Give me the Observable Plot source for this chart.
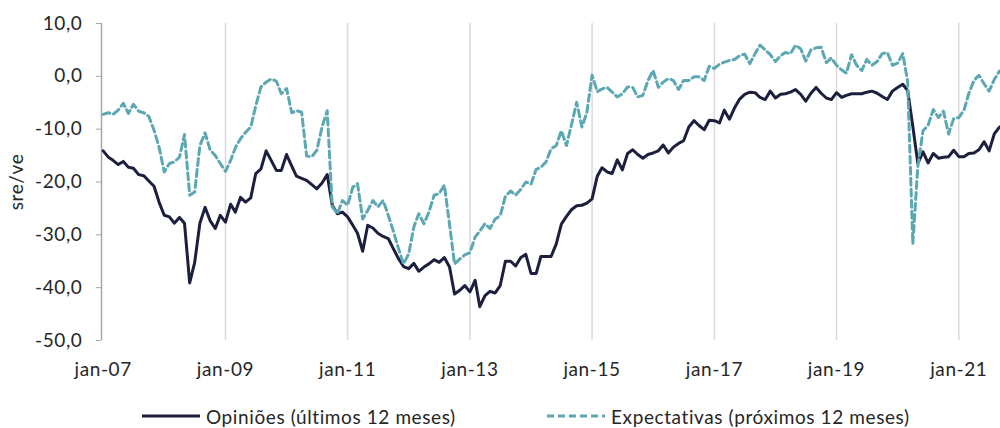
<!DOCTYPE html>
<html>
<head>
<meta charset="utf-8">
<script src="https://cdn.jsdelivr.net/npm/d3@7"></script>
<script src="https://cdn.jsdelivr.net/npm/@observablehq/plot@0.6"></script>
<style>
  body { margin: 0; background: #fff; font-family: Lato, sans-serif; }
  #legend { display: flex; padding-left: 142px; height: 24px; align-items: center;
            font-size: 19px; letter-spacing: 0.6px; color: #262626; }
  #legend .item { display: flex; align-items: center; gap: 6px; }
  #legend .item:first-child { width: 405px; }
</style>
</head>
<body>
<div id="chart"></div>
<div id="legend"></div>
<script>
// meses: jan-07 a set-21
const meses = d3.utcMonth.range(new Date(Date.UTC(2007, 0, 1)), new Date(Date.UTC(2021, 9, 1)))

const opinioes = [
  -14.1, -15.3, -15.9, -16.7, -16.1, -17.2, -17.4, -18.6, -18.8, -19.8, -20.8, -23.8,
  -26.3, -26.6, -27.8, -26.7, -27.8, -39.1, -35.2, -27.8, -24.8, -27.3, -28.8, -26.3,
  -27.6, -24.2, -25.7, -22.9, -23.8, -23.0, -18.4, -17.5, -14.1, -15.9, -17.8, -17.8,
  -14.8, -17.0, -18.9, -19.3, -19.7, -20.5, -21.3, -20.2, -18.6, -24.4, -26.0, -25.7,
  -26.6, -28.2, -29.7, -33.1, -28.2, -28.7, -29.7, -30.3, -30.7, -32.6, -34.5, -36.0,
  -36.4, -35.4, -36.9, -36.1, -35.5, -34.7, -35.2, -34.3, -36.1, -41.2, -40.5, -39.6,
  -40.8, -38.6, -43.6, -41.5, -40.7, -41.0, -39.6, -35.0, -35.0, -35.9, -34.3, -33.7,
  -37.3, -37.3, -34.1, -34.1, -34.1, -31.7, -28.0, -26.5, -25.2, -24.5, -24.4, -24.0,
  -23.2, -18.9, -17.3, -18.1, -18.4, -15.8, -17.7, -14.6, -13.9, -14.8, -15.5, -14.8,
  -14.5, -14.1, -13.0, -14.5, -13.4, -12.7, -12.2, -9.6, -8.4, -9.3, -10.1, -8.3,
  -8.4, -8.8, -6.4, -8.1, -6.0, -4.3, -3.4, -3.0, -3.1, -4.0, -4.4, -2.8,
  -4.1, -3.4, -3.3, -3.0, -2.5, -3.4, -4.7, -3.2, -2.1, -3.2, -4.1, -4.4,
  -3.1, -4.0, -3.6, -3.3, -3.3, -3.3, -3.0, -2.8, -3.2, -3.8, -4.4, -2.8,
  -2.1, -1.5, -2.7, -9.5, -16.5, -14.3, -16.4, -14.6, -15.5, -15.3, -15.2, -14.0,
  -15.2, -15.2, -14.6, -14.5, -13.9, -12.4, -14.1, -10.9, -9.6
]

const expectativas = [
  -7.2, -6.9, -7.2, -6.4, -5.1, -7.0, -5.3, -6.6, -6.9, -7.6, -10.2, -13.4,
  -18.1, -16.5, -16.2, -15.3, -11.0, -22.5, -21.9, -13.1, -10.7, -13.9, -15.0, -16.5,
  -18.0, -15.9, -13.5, -11.8, -10.6, -9.6, -5.6, -2.0, -1.1, -0.5, -0.9, -3.3,
  -2.3, -6.9, -6.5, -6.8, -15.1, -15.2, -14.0, -9.6, -6.5, -24.7, -26.0, -23.5,
  -24.4, -21.0, -20.3, -27.0, -25.4, -23.5, -24.7, -23.5, -26.3, -29.3, -32.6, -35.5,
  -33.6, -28.5, -26.0, -27.9, -25.7, -22.5, -22.2, -20.6, -28.0, -35.5, -34.6, -33.8,
  -33.4, -30.4, -29.3, -27.9, -28.8, -27.0, -26.4, -22.7, -21.7, -22.5, -21.4, -20.0,
  -20.4, -17.6, -17.2, -16.2, -13.7, -13.1, -10.3, -13.1, -9.0, -4.9, -9.6, -6.8,
  0.2, -2.9, -2.4, -2.1, -3.0, -3.9, -3.3, -2.0, -2.1, -3.9, -3.6, -0.8,
  1.1, -2.1, -1.1, -0.4, -0.8, -2.5, -0.8, -0.8, -0.1, -0.1, -0.8, 1.9,
  1.5, 2.3, 2.7, 3.0, 3.2, 3.9, 4.2, 2.4, 4.3, 5.9, 5.0, 4.1,
  2.8, 3.9, 4.5, 4.3, 5.9, 5.2, 2.9, 5.0, 5.4, 5.5, 2.6, 3.5,
  2.1, 1.2, 0.6, 4.1, 2.1, 1.1, 3.2, 2.1, 2.8, 4.3, 4.5, 2.1,
  2.5, 4.3, -1.0, -31.7, -17.0, -10.3, -9.3, -6.3, -7.8, -6.6, -10.9, -8.0,
  -7.8, -6.4, -3.3, -0.8, 0.2, -1.4, -2.8, -0.6, 1.0
]

const anosTick = [2007, 2009, 2011, 2013, 2015, 2017, 2019, 2021]
const ticksY = [10, 0, -10, -20, -30, -40, -50]

const series = [
  {nome: 'Opiniões (últimos 12 meses)', cor: '#1c1f3e', traco: null},
  {nome: 'Expectativas (próximos 12 meses)', cor: '#5ba8b3', traco: '7,4'},
]

const dados = meses.map((d, i) => ({data: d, opinioes: opinioes[i], expectativas: expectativas[i]}))
const ticksX = anosTick.map(a => new Date(Date.UTC(a, 0, 1)))
const inicioEixo = new Date(Date.UTC(2006, 11, 22))
const fimEixo = new Date(Date.UTC(2021, 8, 7))

const chart = Plot.plot({
  width: 1000,
  height: 404,
  marginLeft: 101,
  marginRight: 0,
  marginTop: 23,
  marginBottom: 64,
  style: {fontFamily: 'Lato, sans-serif', fontSize: '19px', letterSpacing: '0.6px', color: '#262626', overflow: 'visible'},
  x: {type: 'utc', domain: [inicioEixo, fimEixo]},
  y: {domain: [-50, 10]},
  marks: [
    Plot.gridX(ticksX.slice(1), {stroke: '#d9d9d9', strokeOpacity: 1, strokeWidth: 1.5}),
    Plot.ruleX([inicioEixo], {stroke: '#a6a6a6', strokeWidth: 1.5}),
    Plot.axisY(ticksY, {
      tickSize: 5, tickPadding: 14, stroke: '#a6a6a6', fill: '#262626',
      tickFormat: d => d.toFixed(1).replace('.', ','),
      label: 'sre/ve', labelAnchor: 'center', labelArrow: 'none', labelOffset: 92,
    }),
    Plot.axisX(ticksX, {
      tickSize: 0, tickPadding: 22, fill: '#262626',
      tickFormat: d => 'jan-' + d3.utcFormat('%y')(d), label: null,
    }),
    Plot.lineY(dados, {x: 'data', y: 'opinioes', stroke: series[0].cor, strokeWidth: 3, strokeLinejoin: 'round'}),
    Plot.lineY(dados, {x: 'data', y: 'expectativas', stroke: series[1].cor, strokeWidth: 3, strokeDasharray: series[1].traco}),
  ],
})

d3.select('#chart').append(() => chart)

// legenda
const leg = d3.select('#legend')
series.forEach(s => {
  const item = leg.append('div').attr('class', 'item')
  const svg = item.append('svg').attr('width', 58).attr('height', 10)
  svg.append('line').attr('x1', 0).attr('x2', 58).attr('y1', 5).attr('y2', 5)
    .attr('stroke', s.cor).attr('stroke-width', 3).attr('stroke-dasharray', s.traco)
  item.append('span').text(s.nome)
})
</script>
</body>
</html>
